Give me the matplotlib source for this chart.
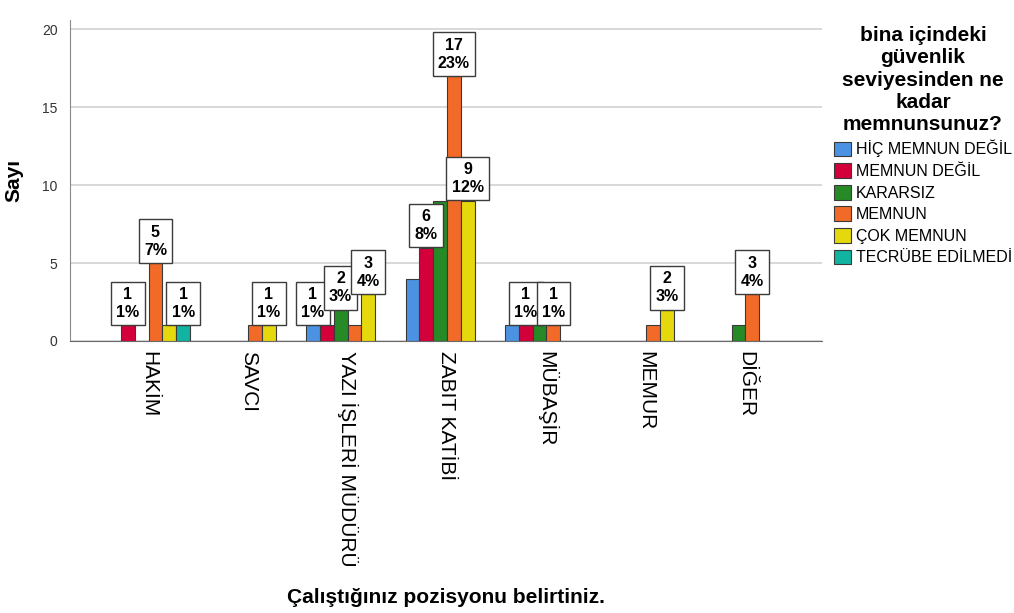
import numpy as np
import matplotlib.pyplot as plt

plt.rcParams['font.family'] = ['Liberation Sans', 'DejaVu Sans']

positions = ['HAKİM', 'SAVCI', 'YAZI İŞLERİ MÜDÜRÜ', 'ZABIT KATİBİ',
             'MÜBAŞİR', 'MEMUR', 'DİĞER']
levels = ['HİÇ MEMNUN DEĞİL', 'MEMNUN DEĞİL', 'KARARSIZ', 'MEMNUN',
          'ÇOK MEMNUN', 'TECRÜBE EDİLMEDİ']
colors = ['#4c92e3', '#d3003b', '#268a26', '#f26a28', '#e5d80c', '#10b4a0']

# counts per level, one value per position
hic_memnun_degil = [0, 0, 1, 4, 1, 0, 0]
memnun_degil = [1, 0, 1, 6, 1, 0, 0]
kararsiz = [0, 0, 2, 9, 1, 0, 1]
memnun = [5, 1, 1, 17, 1, 1, 3]
cok_memnun = [1, 1, 3, 9, 0, 2, 0]
tecrube_edilmedi = [1, 0, 0, 0, 0, 0, 0]
counts = np.array([hic_memnun_degil, memnun_degil, kararsiz, memnun,
                   cok_memnun, tecrube_edilmedi])

# bars that carry a count / percent label (position, level)
labelled = [(0, 1), (0, 3), (0, 5), (1, 4), (2, 0), (2, 2), (2, 4),
            (3, 1), (3, 3), (3, 4), (4, 1), (4, 3), (5, 4), (6, 3)]

total = counts.sum()

fig = plt.figure(figsize=(10.14, 6.13), dpi=100)
ax = fig.add_axes([70/1014, 1-341/613, 752/1014, 321/613])

w = 0.139
x = np.arange(len(positions))
for j, lev in enumerate(levels):
    vals = counts[j]
    m = vals > 0
    ax.bar(x[m] + (j - 2.5)*w, vals[m], width=w, color=colors[j],
           edgecolor='#3a3a3a', linewidth=0.8, zorder=3, label=lev)

for i, j in labelled:
    v = counts[j, i]
    pct = 100.0 * v / total
    ax.annotate('%d\n%d%%' % (v, round(pct)), (i + (j - 2.5)*w, v),
                xytext=(0, 4), textcoords='offset points',
                ha='center', va='bottom', fontsize=11.5, fontweight='bold',
                linespacing=1.25, zorder=5,
                bbox=dict(boxstyle='square,pad=0.33', fc='white',
                          ec='#3c3c3c', lw=1))

ax.set_xlim(-0.79, 6.77)
ax.set_ylim(0, 20.6)
ax.set_yticks([0, 5, 10, 15, 20])
ax.yaxis.grid(True, color='#d6d6d6', linewidth=1.3, zorder=0)
ax.set_axisbelow(True)
ax.set_xticks(x)
ax.set_xticklabels(positions, rotation=270, fontsize=15)
ax.tick_params(axis='x', length=0, pad=7)
ax.tick_params(axis='y', length=0, pad=9, labelsize=10, labelcolor='#333333')
for s in ['top', 'right']:
    ax.spines[s].set_visible(False)
ax.spines['left'].set_color('#8a8a8a')
ax.spines['bottom'].set_color('#6a6a6a')

ax.set_ylabel('Sayı', fontsize=15, fontweight='bold')
ax.yaxis.set_label_coords(-0.062, 0.5)
ax.set_xlabel('Çalıştığınız pozisyonu belirtiniz.', fontsize=15,
              fontweight='bold')
ax.xaxis.set_label_coords(0.5, -0.77)

handles, labs = ax.get_legend_handles_labels()
leg = fig.legend(handles, labs, loc='upper left',
                 bbox_to_anchor=(826/1014, 1-18/613), frameon=False,
                 borderpad=0, fontsize=11.5, handlelength=1.05,
                 handleheight=1.05, handletextpad=0.3, labelspacing=0.36,
                 title='bina içindeki\ngüvenlik\nseviyesinden ne\nkadar\nmemnunsunuz?',
                 title_fontproperties={'size': 15, 'weight': 'bold'})
leg.get_title().set_multialignment('center')
leg.get_title().set_linespacing(1.22)

fig.savefig('out.png', dpi=100)
